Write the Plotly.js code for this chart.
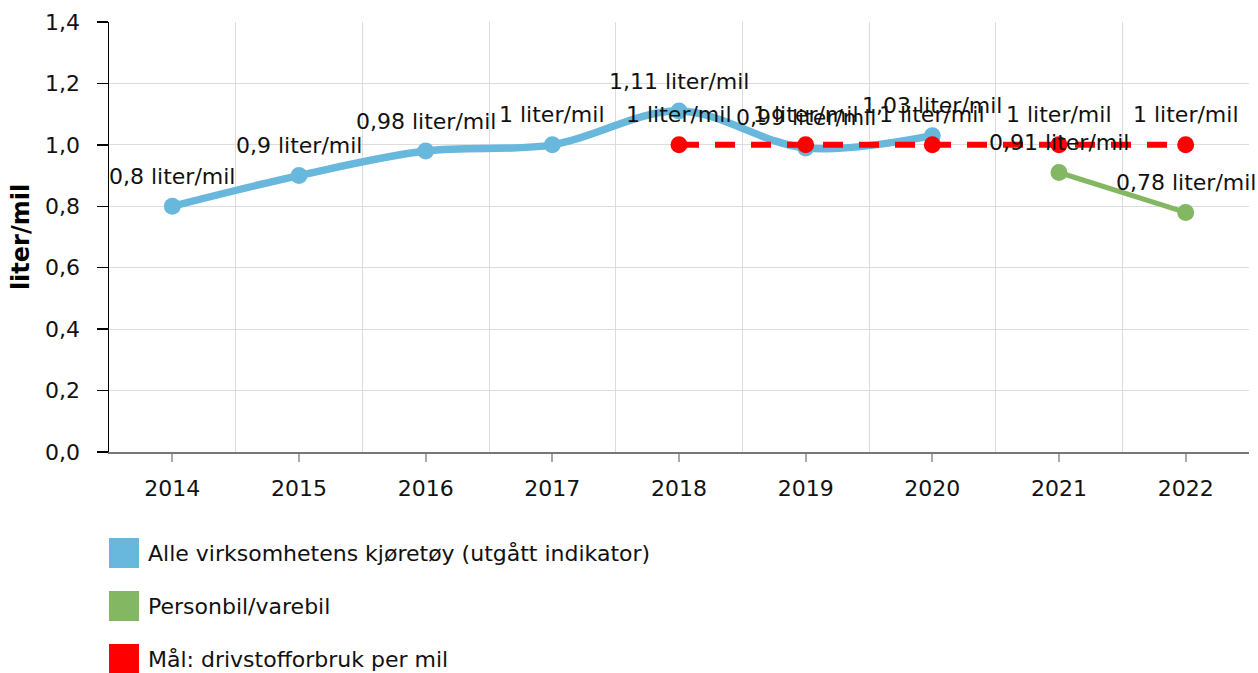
<!DOCTYPE html>
<html>
<head>
<meta charset="utf-8">
<script src="https://cdn.plot.ly/plotly-3.0.1.min.js"></script>
<style>
  html, body { margin: 0; padding: 0; background: #fff; }
  #chart { width: 1258px; height: 673px; }
</style>
</head>
<body>
<div id="chart"></div>
<script>
// data
const years = [2014, 2015, 2016, 2017, 2018, 2019, 2020, 2021, 2022];
const yearLabels = ['2014', '2015', '2016', '2017', '2018', '2019', '2020', '2021', '2022'];

const allYears = [2014, 2015, 2016, 2017, 2018, 2019, 2020];
const allValues = [0.8, 0.9, 0.98, 1, 1.11, 0.99, 1.03];

const carYears = [2021, 2022];
const carValues = [0.91, 0.78];

const goalYears = [2018, 2019, 2020, 2021, 2022];
const goalValues = [1, 1, 1, 1, 1];

const seriesNames = [
    'Alle virksomhetens kjøretøy (utgått indikator)',
    'Personbil/varebil',
    'Mål: drivstofforbruk per mil'
];
const seriesColors = ['#68b7dc', '#84b761', '#ff0000'];

const unit = ' liter/mil';
const FONT = 'DejaVu Sans, Verdana, sans-serif';
const TEXT_SIZE = 22;

function labelsFor(values) {
    return values.map(v => String(v).replace('.', ',') + unit);
}

// plot box in pixels (used only to place the hand-made legend)
const plotTop = 22;
const plotBottom = 452;
const plotH = plotBottom - plotTop;

let allTrace = {
    x: allYears,
    y: allValues,
    mode: 'lines+markers',
    type: 'scatter',
    name: seriesNames[0],
    line: { color: seriesColors[0], width: 7.5, shape: 'spline', smoothing: 1 },
    marker: { color: seriesColors[0], size: 17 },
    hoverinfo: 'skip'
};

let carTrace = {
    x: carYears,
    y: carValues,
    mode: 'lines+markers',
    type: 'scatter',
    name: seriesNames[1],
    line: { color: seriesColors[1], width: 5 },
    marker: { color: seriesColors[1], size: 17 },
    hoverinfo: 'skip'
};

let goalTrace = {
    x: goalYears,
    y: goalValues,
    mode: 'lines+markers',
    type: 'scatter',
    name: seriesNames[2],
    line: { color: seriesColors[2], width: 6, dash: '20px,16px' },
    marker: { color: seriesColors[2], size: 17 },
    hoverinfo: 'skip'
};

let annotations = [];

// value labels above every point
function addLabels(xs, ys) {
    let texts = labelsFor(ys);
    for (let i = 0; i < xs.length; i++) {
        annotations.push({
            x: xs[i], y: ys[i], xref: 'x', yref: 'y',
            text: texts[i],
            showarrow: false,
            yshift: 30,
            yanchor: 'middle',
            font: { family: FONT, size: TEXT_SIZE, color: '#111' }
        });
    }
}
addLabels(allYears, allValues);
addLabels(goalYears, goalValues);
addLabels(carYears, carValues);

// legend drawn by hand: big square swatches under the plot
let shapes = [];
const legendRows = [553, 606, 659];
for (let i = 0; i < seriesNames.length; i++) {
    let yAnchor = -(legendRows[i] - plotBottom) / plotH;
    shapes.push({
        type: 'rect',
        xref: 'paper', xsizemode: 'pixel', xanchor: 0, x0: 0, x1: 30,
        yref: 'paper', ysizemode: 'pixel', yanchor: yAnchor, y0: -15, y1: 15,
        fillcolor: seriesColors[i],
        line: { width: 0 }
    });
    annotations.push({
        xref: 'paper', x: 0, xshift: 37, xanchor: 'left',
        yref: 'paper', y: yAnchor, yanchor: 'middle',
        text: seriesNames[i],
        showarrow: false,
        font: { family: FONT, size: TEXT_SIZE, color: '#111' }
    });
}

let layout = {
    width: 1258,
    height: 673,
    margin: { l: 109, r: 9, t: plotTop, b: 673 - plotBottom },
    paper_bgcolor: '#fff',
    plot_bgcolor: '#fff',
    separators: ', ',
    font: { family: FONT, size: TEXT_SIZE, color: '#111' },
    showlegend: false,
    xaxis: {
        type: 'linear',
        range: [2013.5, 2022.5],
        tickmode: 'array',
        tickvals: years,
        ticktext: yearLabels,
        ticks: 'outside',
        ticklen: 8,
        tickwidth: 2,
        tickcolor: '#aaa',
        ticklabelstandoff: 8,
        showgrid: false,
        zeroline: false,
        showline: true,
        linecolor: '#777',
        linewidth: 1.5,
        minor: {
            tickmode: 'linear',
            tick0: 2013.5,
            dtick: 1,
            ticks: '',
            showgrid: true,
            gridcolor: '#dcdcdc',
            gridwidth: 1
        },
        fixedrange: true
    },
    yaxis: {
        range: [0, 1.4],
        dtick: 0.2,
        tick0: 0,
        tickformat: '.1f',
        ticks: 'outside',
        ticklen: 11,
        tickwidth: 1.5,
        tickcolor: '#000',
        ticklabelstandoff: 12,
        showgrid: true,
        gridcolor: '#dcdcdc',
        gridwidth: 1,
        zeroline: false,
        showline: true,
        linecolor: '#000',
        linewidth: 1.5,
        title: {
            text: 'liter/mil',
            font: { family: FONT, size: 24, color: '#000', weight: 'bold' },
            standoff: 8
        },
        fixedrange: true
    },
    shapes: shapes,
    annotations: annotations
};

Plotly.newPlot('chart', [allTrace, carTrace, goalTrace], layout, { displayModeBar: false, staticPlot: true });
</script>
</body>
</html>
